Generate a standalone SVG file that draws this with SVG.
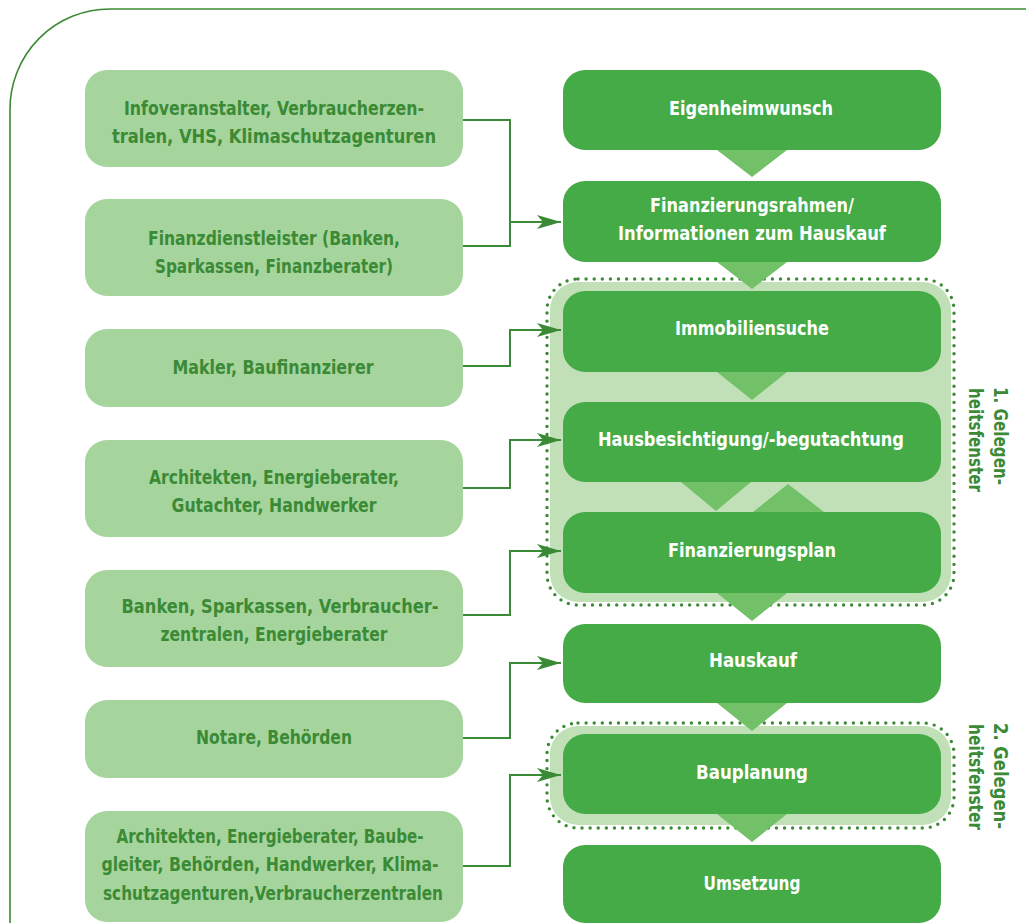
<svg xmlns="http://www.w3.org/2000/svg" width="1026" height="923" viewBox="0 0 1026 923">
<defs>
<style>
.frame{fill:none;stroke:#3b8a35;stroke-width:1.6}
.lbox{fill:#a6d49d}
.rbox{fill:#45ab46}
.zone{fill:#c1e0b8}
.dots{fill:none;stroke:#3b8a35;stroke-width:3.4;stroke-linecap:round;stroke-dasharray:0 8.1}
.tri{fill:#72c168}
text{font-family:"DejaVu Sans Condensed","Liberation Sans Narrow","Liberation Sans",sans-serif;font-weight:bold;font-size:20px;text-anchor:middle}
.lt{fill:#3b8a35}
.rt{fill:#ffffff}
.vt{fill:#3b8a35}
.con{fill:none;stroke:#3b8a35;stroke-width:2}
</style>
<marker id="arr" viewBox="0 0 24 14" refX="24" refY="7" markerWidth="24" markerHeight="14" markerUnits="userSpaceOnUse" orient="auto">
<path d="M0,0 L24,7 L0,14 L6,7 Z" fill="#3b8a35"/>
</marker>
</defs>
<rect width="1026" height="923" fill="#ffffff"/>
<path class="frame" d="M10,923 L10,110 A100,100 0 0 1 110,9 L1026,9"/>

<g id="zone1">
<rect class="zone" x="550" y="282" width="401" height="320" rx="28"/>
<rect class="dots" x="547" y="279" width="407" height="326" rx="31"/>
</g>
<g id="zone2">
<rect class="zone" x="550" y="726" width="401" height="99" rx="28"/>
<rect class="dots" x="547" y="723" width="407" height="105" rx="31"/>
</g>

<g id="triangles">
<polygon class="tri" points="717,150 787,150 752,177"/>
<polygon class="tri" points="717,262 787,262 752,289"/>
<polygon class="tri" points="717,372 787,372 752,400"/>
<polygon class="tri" points="681,482 751,482 716,511"/>
<polygon class="tri" points="753,512 824,512 788,484"/>
<polygon class="tri" points="717,593 787,593 752,621"/>
<polygon class="tri" points="717,703 787,703 752,731"/>
<polygon class="tri" points="717,814 787,814 752,842"/>
</g>

<g id="l1"><rect class="lbox" x="85" y="70" width="378" height="97" rx="22"/>
<text class="lt" x="274" y="115" textLength="300" lengthAdjust="spacingAndGlyphs">Infoveranstalter, Verbraucherzen-</text>
<text class="lt" x="274" y="143" textLength="324" lengthAdjust="spacingAndGlyphs">tralen, VHS, Klimaschutzagenturen</text></g>
<g id="l2"><rect class="lbox" x="85" y="199" width="378" height="97" rx="22"/>
<text class="lt" x="274" y="245" textLength="252" lengthAdjust="spacingAndGlyphs">Finanzdienstleister (Banken,</text>
<text class="lt" x="274" y="273" textLength="238" lengthAdjust="spacingAndGlyphs">Sparkassen, Finanzberater)</text></g>
<g id="l3"><rect class="lbox" x="85" y="329" width="378" height="78" rx="22"/>
<text class="lt" x="273" y="374" textLength="201" lengthAdjust="spacingAndGlyphs">Makler, Baufinanzierer</text></g>
<g id="l4"><rect class="lbox" x="85" y="440" width="378" height="97" rx="22"/>
<text class="lt" x="274" y="484" textLength="250" lengthAdjust="spacingAndGlyphs">Architekten, Energieberater,</text>
<text class="lt" x="274" y="512" textLength="205" lengthAdjust="spacingAndGlyphs">Gutachter, Handwerker</text></g>
<g id="l5"><rect class="lbox" x="85" y="570" width="378" height="97" rx="22"/>
<text class="lt" x="280" y="613" textLength="317" lengthAdjust="spacingAndGlyphs">Banken, Sparkassen, Verbraucher-</text>
<text class="lt" x="274" y="641" textLength="227" lengthAdjust="spacingAndGlyphs">zentralen, Energieberater</text></g>
<g id="l6"><rect class="lbox" x="85" y="700" width="378" height="78" rx="22"/>
<text class="lt" x="274" y="744" textLength="156" lengthAdjust="spacingAndGlyphs">Notare, Behörden</text></g>
<g id="l7"><rect class="lbox" x="85" y="811" width="378" height="111" rx="22"/>
<text class="lt" x="270" y="843" textLength="307" lengthAdjust="spacingAndGlyphs">Architekten, Energieberater, Baube-</text>
<text class="lt" x="270" y="871" textLength="337" lengthAdjust="spacingAndGlyphs">gleiter, Behörden, Handwerker, Klima-</text>
<text class="lt" x="273" y="900" textLength="340" lengthAdjust="spacingAndGlyphs">schutzagenturen,Verbraucherzentralen</text></g>

<g id="r1"><rect class="rbox" x="563" y="70" width="378" height="80" rx="22"/>
<text class="rt" x="751" y="115" textLength="164" lengthAdjust="spacingAndGlyphs">Eigenheimwunsch</text></g>
<g id="r2"><rect class="rbox" x="563" y="181" width="378" height="81" rx="22"/>
<text class="rt" x="752" y="212" textLength="204" lengthAdjust="spacingAndGlyphs">Finanzierungsrahmen/</text>
<text class="rt" x="752" y="240" textLength="268" lengthAdjust="spacingAndGlyphs">Informationen zum Hauskauf</text></g>
<g id="r3"><rect class="rbox" x="563" y="291" width="378" height="81" rx="22"/>
<text class="rt" x="752" y="335" textLength="154" lengthAdjust="spacingAndGlyphs">Immobiliensuche</text></g>
<g id="r4"><rect class="rbox" x="563" y="402" width="378" height="80" rx="22"/>
<text class="rt" x="751" y="446" textLength="306" lengthAdjust="spacingAndGlyphs">Hausbesichtigung/-begutachtung</text></g>
<g id="r5"><rect class="rbox" x="563" y="512" width="378" height="81" rx="22"/>
<text class="rt" x="752" y="557" textLength="168" lengthAdjust="spacingAndGlyphs">Finanzierungsplan</text></g>
<g id="r6"><rect class="rbox" x="563" y="624" width="378" height="79" rx="22"/>
<text class="rt" x="753" y="667" textLength="88" lengthAdjust="spacingAndGlyphs">Hauskauf</text></g>
<g id="r7"><rect class="rbox" x="563" y="734" width="378" height="80" rx="22"/>
<text class="rt" x="752" y="779" textLength="112" lengthAdjust="spacingAndGlyphs">Bauplanung</text></g>
<g id="r8"><rect class="rbox" x="563" y="845" width="378" height="78" rx="22"/>
<text class="rt" x="752" y="890" textLength="97" lengthAdjust="spacingAndGlyphs">Umsetzung</text></g>

<g id="label1" transform="translate(988,440) rotate(90)">
<text class="vt" x="-4" y="-6" textLength="98" lengthAdjust="spacingAndGlyphs">1. Gelegen-</text>
<text class="vt" x="0" y="19" textLength="104" lengthAdjust="spacingAndGlyphs">heitsfenster</text></g>
<g id="label2" transform="translate(988,776) rotate(90)">
<text class="vt" x="0" y="-6" textLength="106" lengthAdjust="spacingAndGlyphs">2. Gelegen-</text>
<text class="vt" x="1" y="19" textLength="106" lengthAdjust="spacingAndGlyphs">heitsfenster</text></g>

<g id="connectors">
<path class="con" d="M463,120 H510 V222 H561" marker-end="url(#arr)"/>
<path class="con" d="M463,246 H510 V222"/>
<path class="con" d="M463,366 H510 V330 H561" marker-end="url(#arr)"/>
<path class="con" d="M463,488 H510 V440 H561" marker-end="url(#arr)"/>
<path class="con" d="M463,615 H510 V551 H561" marker-end="url(#arr)"/>
<path class="con" d="M463,738 H510 V663 H561" marker-end="url(#arr)"/>
<path class="con" d="M463,866 H510 V775 H561" marker-end="url(#arr)"/>
</g>
</svg>
